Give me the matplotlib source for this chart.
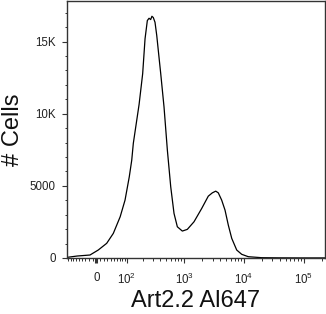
import numpy as np
import matplotlib
matplotlib.use("Agg")
import matplotlib.pyplot as plt
from matplotlib.ticker import FixedLocator, NullFormatter

plt.rcParams['font.family'] = ['Liberation Sans', 'DejaVu Sans']

# Histogram (fluorescence intensity vs. cell count)
intensity = [-93, -55, -17, 5, 28, 48, 72, 92, 112, 125, 134, 171, 198, 218, 239,
             256, 273, 287, 303, 324, 347, 384, 405, 461, 525, 598, 679, 772, 936,
             1135, 1468, 1976, 2545, 2970, 3389, 3739, 4260, 4843, 5495, 6270, 7594,
             9199, 11861, 19873, 40000, 86600, 226800]
cells = [48, 138, 207, 553, 1017, 1706, 2856, 4011, 5623, 6778, 7953, 10650, 12774,
         15195, 16460, 16619, 16529, 16757, 16668, 16342, 15423, 13694, 12795, 10464,
         7469, 4931, 3091, 2165, 1867, 1985, 2511, 3437, 4288, 4516, 4634, 4516, 4011,
         3320, 2282, 1362, 553, 256, 90, 21, 10, 5, 5]

y_ticks = [0, 5000, 10000, 15000]
y_ticklabels = ['0', '5000', '10K', '15K']
x_ticks = [0, 100, 1000, 10000, 100000]
x_ticklabels = ['0', r'$\mathregular{10^2}$', r'$\mathregular{10^3}$',
                r'$\mathregular{10^4}$', r'$\mathregular{10^5}$']

C = 68.6
def fwd(x):
    return np.arcsinh(np.asarray(x, dtype=float) / C)
def inv(u):
    return C * np.sinh(np.asarray(u, dtype=float))

fig = plt.figure(figsize=(3.26, 3.14), dpi=100)
ax = fig.add_axes([67/326, 56/314, 258/326, 257.5/314])
ax.set_xscale('function', functions=(fwd, inv))
ax.plot(intensity, cells, color='black', lw=0.9)

ax.set_xlim(-95, 226800)
ax.set_ylim(0, 17850)

for s in ax.spines.values():
    s.set_color('#333333')
    s.set_linewidth(1.0)

ax.set_yticks(y_ticks)
ax.set_yticklabels(y_ticklabels)
ax.yaxis.set_minor_locator(FixedLocator([v for v in range(1000, 18000, 1000) if v % 5000]))
ax.set_xticks(x_ticks)
ax.set_xticklabels(x_ticklabels)
minors = [-90, -80, -70, -60, -50, -40, -30, -20, -10] + list(range(10, 100, 10)) \
    + list(range(200, 1000, 100)) + list(range(2000, 10000, 1000)) \
    + list(range(20000, 100000, 10000)) + [200000]
ax.xaxis.set_minor_locator(FixedLocator(minors))
ax.xaxis.set_minor_formatter(NullFormatter())

ax.tick_params(axis='both', which='major', direction='out', length=3.6, width=0.8,
               color='#333333', labelsize=8.3, labelcolor='#222222')
ax.tick_params(axis='y', which='major', pad=4.5)
ax.tick_params(axis='x', which='major', pad=6.3)
ax.tick_params(axis='both', which='minor', direction='out', length=1.8, width=0.7,
               color='#333333')
# thicker zero tick
ax.xaxis.get_major_ticks()[0].tick1line.set_markeredgewidth(2.2)

fig.text(196/326, 1 - 307/314, 'Art2.2 Al647', ha='center', va='baseline',
         fontsize=17, color='#111111')
fig.text(13/326, 1 - 130/314, '# Cells', ha='center', va='center',
         fontsize=17, rotation=90, color='#111111')

fig.savefig('out.png', dpi=100)
